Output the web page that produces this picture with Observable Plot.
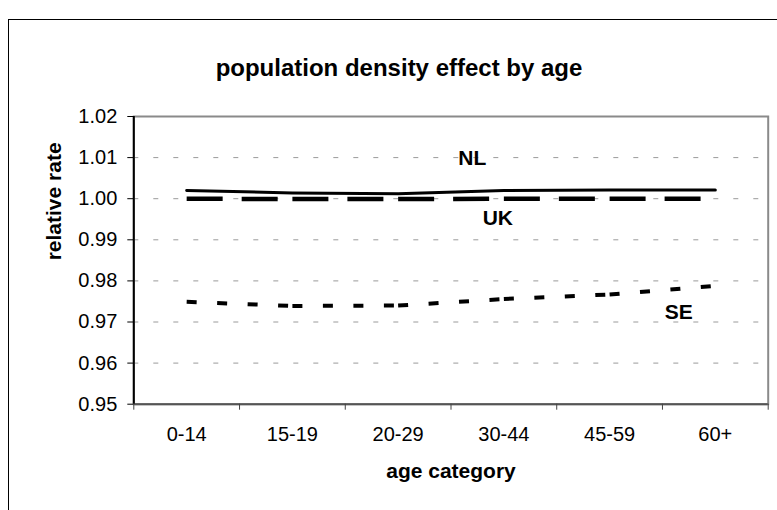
<!DOCTYPE html>
<html><head><meta charset="utf-8">
<script src="https://cdn.jsdelivr.net/npm/d3@7"></script>
<script src="https://cdn.jsdelivr.net/npm/@observablehq/plot@0.6"></script>
<style>
html,body{margin:0;padding:0;background:#fff;overflow:hidden;}
#wrap{position:relative;width:777px;height:510px;overflow:hidden;background:#fff;}
#wrap svg{position:absolute;left:0;top:0;}
#border{position:absolute;left:8px;top:19px;width:900px;height:700px;border:1px solid #000;box-sizing:border-box;pointer-events:none;}
</style></head><body><div id="wrap"></div>
<script>
const title = "population density effect by age";
const xTitle = "age category";
const yTitle = "relative rate";
const categories = ["0-14", "15-19", "20-29", "30-44", "45-59", "60+"];
const NL = [1.0020, 1.0014, 1.0012, 1.0020, 1.0021, 1.0021];
const UK = [1.0000, 0.9999, 0.9999, 1.0000, 1.0000, 1.0000];
const SE = [0.9749, 0.9739, 0.9740, 0.9756, 0.9767, 0.9788];
const yTicks = [0.95, 0.96, 0.97, 0.98, 0.99, 1.00, 1.01, 1.02];
const gridTicks = [0.96, 0.97, 0.98, 0.99, 1.00, 1.01];

const pts = vals => categories.map((c, i) => ({cat: c, x: i + 0.5, y: vals[i]}));
const segs = vals => d3.pairs(pts(vals));
const font = "'Liberation Sans', Arial, sans-serif";

const chart = Plot.plot({
  width: 777, height: 510,
  marginLeft: 133.3, marginTop: 116, marginRight: 9.3, marginBottom: 106.3,
  style: {fontFamily: font, fontSize: "20px", color: "#000", background: "transparent", overflow: "visible"},
  x: {domain: [0, categories.length], axis: null},
  y: {domain: [yTicks[0], yTicks[yTicks.length - 1]], axis: null},
  marks: [
    Plot.gridY(gridTicks, {stroke: "#9a9a9a", strokeOpacity: 1, strokeDasharray: "5,15"}),
    Plot.frame({stroke: "#8a8a8a", strokeWidth: 2}),
    Plot.ruleY([yTicks[0]], {stroke: "#555", strokeWidth: 2}),
    Plot.ruleX([0], {stroke: "#000", strokeWidth: 2}),
    Plot.axisY(yTicks, {tickSize: 6, tickPadding: 10.5, tickFormat: d3.format(".2f"), label: null, fontSize: 20, stroke: "#000"}),
    Plot.axisX(d3.range(0, categories.length + 1), {tickSize: 6, tickFormat: () => "", label: null, stroke: "#444"}),
    Plot.axisX(categories.map((c, i) => i + 0.5), {tickSize: 0, tickPadding: 23, tickFormat: d => categories[Math.floor(d)], label: null, fontSize: 20}),
    Plot.link(segs(SE), {x1: d => d[0].x, y1: d => d[0].y, x2: d => d[1].x, y2: d => d[1].y, stroke: "#000", strokeWidth: 4, strokeDasharray: "10,20.5"}),
    Plot.link(segs(UK), {x1: d => d[0].x, y1: d => d[0].y, x2: d => d[1].x, y2: d => d[1].y, stroke: "#000", strokeWidth: 4.5, strokeDasharray: "36,19"}),
    Plot.line(pts(NL), {x: "x", y: "y", stroke: "#000", strokeWidth: 3, strokeLinecap: "round", strokeLinejoin: "round"}),
    Plot.text([pts(NL)[3]], {x: "x", y: "y", text: () => "NL", dx: -31.5, dy: -32.5, fontSize: 21, fontWeight: "bold", lineAnchor: "middle"}),
    Plot.text([pts(UK)[3]], {x: "x", y: "y", text: () => "UK", dx: -6, dy: 19.7, fontSize: 21, fontWeight: "bold", lineAnchor: "middle"}),
    Plot.text([pts(SE)[5]], {x: "x", y: "y", text: () => "SE", dx: -36.5, dy: 26.3, fontSize: 21, fontWeight: "bold", lineAnchor: "middle"}),
    Plot.text([title], {frameAnchor: "top", text: d => d, dx: -52, dy: -41, fontSize: 24, fontWeight: "bold", lineAnchor: "bottom"}),
    Plot.text([xTitle], {frameAnchor: "bottom", text: d => d, dy: 73.3, fontSize: 21, fontWeight: "bold", lineAnchor: "bottom"}),
    Plot.text([yTitle], {frameAnchor: "left", text: d => d, dx: -79.3, rotate: -90, fontSize: 21, fontWeight: "bold", lineAnchor: "middle"})
  ]
});
const wrap = document.getElementById("wrap");
wrap.appendChild(chart);
const b = document.createElement("div");
b.id = "border";
wrap.appendChild(b);
</script>
</body></html>
